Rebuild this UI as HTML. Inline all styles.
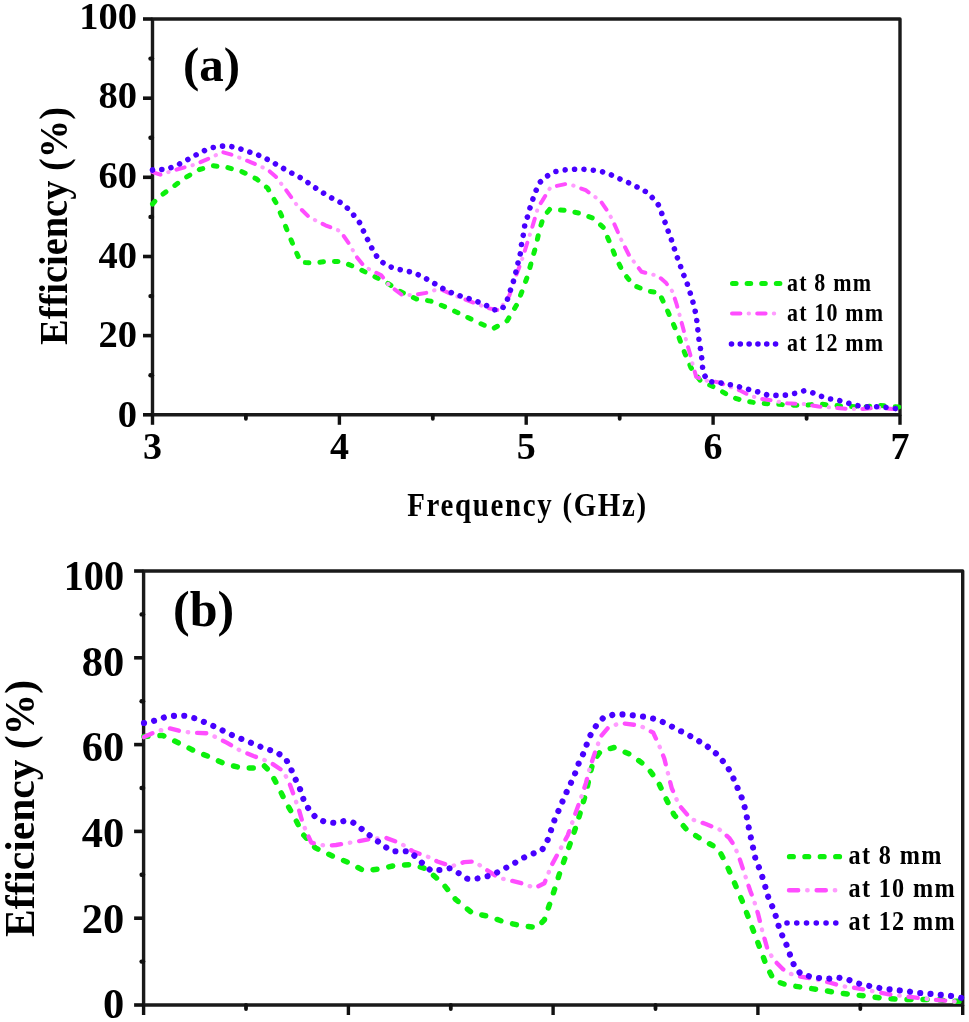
<!DOCTYPE html>
<html><head><meta charset="utf-8"><title>Efficiency vs Frequency</title><style>
html,body{margin:0;padding:0;background:#fff;}
body{width:969px;height:1022px;overflow:hidden;}
svg{display:block;filter:blur(0.45px);}
text{font-family:"Liberation Serif",serif;font-weight:bold;fill:#000;}
</style></head><body>
<svg width="969" height="1022" viewBox="0 0 969 1022">
<rect width="969" height="1022" fill="#fff"/>
<path d="M152.5,414.8 L152.5,19 L900,19 L900,414.8 Z" fill="none" stroke="#1a1a1a" stroke-width="3.4" stroke-linejoin="round"/>
<line x1="143.0" y1="414.8" x2="152.5" y2="414.8" stroke="#111" stroke-width="3.6"/>
<line x1="152.0" y1="375.2" x2="150.5" y2="375.2" stroke="#111" stroke-width="4.4" stroke-linecap="round"/>
<line x1="143.0" y1="335.6" x2="152.5" y2="335.6" stroke="#111" stroke-width="3.6"/>
<line x1="152.0" y1="296.1" x2="150.5" y2="296.1" stroke="#111" stroke-width="4.4" stroke-linecap="round"/>
<line x1="143.0" y1="256.5" x2="152.5" y2="256.5" stroke="#111" stroke-width="3.6"/>
<line x1="152.0" y1="216.9" x2="150.5" y2="216.9" stroke="#111" stroke-width="4.4" stroke-linecap="round"/>
<line x1="143.0" y1="177.3" x2="152.5" y2="177.3" stroke="#111" stroke-width="3.6"/>
<line x1="152.0" y1="137.7" x2="150.5" y2="137.7" stroke="#111" stroke-width="4.4" stroke-linecap="round"/>
<line x1="143.0" y1="98.2" x2="152.5" y2="98.2" stroke="#111" stroke-width="3.6"/>
<line x1="152.0" y1="58.6" x2="150.5" y2="58.6" stroke="#111" stroke-width="4.4" stroke-linecap="round"/>
<line x1="143.0" y1="19.0" x2="152.5" y2="19.0" stroke="#111" stroke-width="3.6"/>
<line x1="152.5" y1="414.8" x2="152.5" y2="424.8" stroke="#111" stroke-width="3.4"/>
<line x1="245.9" y1="414.8" x2="245.9" y2="418.8" stroke="#111" stroke-width="3.8" stroke-linecap="round"/>
<line x1="339.4" y1="414.8" x2="339.4" y2="424.8" stroke="#111" stroke-width="3.4"/>
<line x1="432.8" y1="414.8" x2="432.8" y2="418.8" stroke="#111" stroke-width="3.8" stroke-linecap="round"/>
<line x1="526.2" y1="414.8" x2="526.2" y2="424.8" stroke="#111" stroke-width="3.4"/>
<line x1="619.7" y1="414.8" x2="619.7" y2="418.8" stroke="#111" stroke-width="3.8" stroke-linecap="round"/>
<line x1="713.1" y1="414.8" x2="713.1" y2="424.8" stroke="#111" stroke-width="3.4"/>
<line x1="806.6" y1="414.8" x2="806.6" y2="418.8" stroke="#111" stroke-width="3.8" stroke-linecap="round"/>
<line x1="900.0" y1="414.8" x2="900.0" y2="424.8" stroke="#111" stroke-width="3.4"/>
<text x="137" y="427.0" font-size="38.5" text-anchor="end">0</text>
<text x="137" y="347.4" font-size="38.5" text-anchor="end">20</text>
<text x="137" y="267.7" font-size="38.5" text-anchor="end">40</text>
<text x="137" y="188.1" font-size="38.5" text-anchor="end">60</text>
<text x="137" y="108.4" font-size="38.5" text-anchor="end">80</text>
<text x="137" y="28.8" font-size="38.5" text-anchor="end">100</text>
<text x="152.5" y="459.4" font-size="38" text-anchor="middle">3</text>
<text x="339.4" y="459.4" font-size="38" text-anchor="middle">4</text>
<text x="526.2" y="459.4" font-size="38" text-anchor="middle">5</text>
<text x="713.1" y="459.4" font-size="38" text-anchor="middle">6</text>
<text x="900.0" y="459.4" font-size="38" text-anchor="middle">7</text>
<path d="M152.5,204.0 L158.3,197.4 L172.7,187.0 L185.1,177.8 L199.5,169.5 L213.0,165.8 L227.4,167.5 L241.8,171.6 L256.3,178.8 L267.6,188.1 L275.9,202.6 L282.1,217.0 L288.3,233.5 L294.5,248.0 L300.7,262.4 L313.0,263.0 L327.5,261.4 L342.0,261.6 L358.6,268.7 L372.0,275.3 L387.5,283.1 L400.9,291.8 L416.4,299.0 L430.8,301.1 L446.3,307.3 L461.8,314.5 L476.2,321.7 L492.7,328.9 L507.2,320.7 L516.5,305.2 L522.7,289.7 L527.8,275.3 L532.0,259.8 L536.1,245.3 L539.2,230.9 L543.4,217.1 L549.6,209.4 L564.0,210.3 L578.5,213.0 L593.0,218.1 L603.3,227.4 L609.5,241.8 L615.7,257.3 L622.9,271.8 L633.2,285.2 L648.7,291.4 L659.0,292.4 L666.0,307.4 L672.7,322.5 L678.7,336.7 L684.6,352.7 L691.1,367.9 L700.5,380.9 L716.4,388.1 L730.8,396.8 L744.5,401.1 L759.7,403.3 L774.1,404.0 L790.0,405.2 L803.7,405.3 L818.6,404.0 L833.5,405.3 L848.3,406.5 L863.2,407.0 L878.0,405.3 L892.9,406.5 L899.5,407.0" fill="none" stroke="#0cf00c" stroke-width="5.00" stroke-linecap="round" stroke-linejoin="round" stroke-dasharray="3.60 11.00"/>
<path d="M152.5,172.0 L154.0,172.6 L160.3,174.7 L176.8,169.5 L195.4,164.4 L211.9,157.2 L222.2,152.0 L232.6,155.0 L251.1,162.3 L267.6,169.5 L275.9,176.8 L286.2,190.2 L296.5,204.6 L308.9,217.0 L325.4,225.3 L340.5,231.2 L349.2,244.0 L356.5,256.7 L364.8,267.0 L381.3,275.3 L389.5,285.6 L401.9,294.9 L414.3,294.9 L426.7,292.8 L439.1,288.7 L455.6,295.9 L472.1,302.1 L488.6,308.3 L498.9,310.4 L509.2,295.9 L515.4,277.3 L521.6,260.8 L527.8,241.2 L533.0,224.7 L538.1,207.2 L542.4,200.6 L550.6,187.2 L565.1,184.1 L573.3,185.5 L585.7,190.2 L600.2,200.6 L607.4,210.9 L612.6,220.2 L620.8,238.8 L629.1,255.3 L641.5,271.8 L658.0,275.9 L666.2,283.1 L672.4,291.4 L676.5,303.8 L680.0,316.5 L683.4,329.2 L686.8,342.8 L690.3,354.9 L692.5,363.6 L696.1,376.6 L703.3,380.2 L719.2,382.4 L729.4,386.7 L739.5,390.3 L749.6,395.4 L758.3,398.3 L775.6,401.1 L787.1,403.3 L803.7,404.0 L818.6,406.5 L833.5,407.7 L848.3,409.0 L863.2,409.0 L878.0,407.7 L892.9,409.0 L899.5,409.0" fill="none" stroke="#ff4dff" stroke-width="4.00" stroke-linecap="round" stroke-linejoin="round" stroke-dasharray="8.40 16.80"/>
<path d="M152.5,172.0 L154.0,172.6 L160.3,174.7 L176.8,169.5 L195.4,164.4 L211.9,157.2 L222.2,152.0 L232.6,155.0 L251.1,162.3 L267.6,169.5 L275.9,176.8 L286.2,190.2 L296.5,204.6 L308.9,217.0 L325.4,225.3 L340.5,231.2 L349.2,244.0 L356.5,256.7 L364.8,267.0 L381.3,275.3 L389.5,285.6 L401.9,294.9 L414.3,294.9 L426.7,292.8 L439.1,288.7 L455.6,295.9 L472.1,302.1 L488.6,308.3 L498.9,310.4 L509.2,295.9 L515.4,277.3 L521.6,260.8 L527.8,241.2 L533.0,224.7 L538.1,207.2 L542.4,200.6 L550.6,187.2 L565.1,184.1 L573.3,185.5 L585.7,190.2 L600.2,200.6 L607.4,210.9 L612.6,220.2 L620.8,238.8 L629.1,255.3 L641.5,271.8 L658.0,275.9 L666.2,283.1 L672.4,291.4 L676.5,303.8 L680.0,316.5 L683.4,329.2 L686.8,342.8 L690.3,354.9 L692.5,363.6 L696.1,376.6 L703.3,380.2 L719.2,382.4 L729.4,386.7 L739.5,390.3 L749.6,395.4 L758.3,398.3 L775.6,401.1 L787.1,403.3 L803.7,404.0 L818.6,406.5 L833.5,407.7 L848.3,409.0 L863.2,409.0 L878.0,407.7 L892.9,409.0 L899.5,409.0" fill="none" stroke="#ff9cff" stroke-width="4.00" stroke-linecap="round" stroke-linejoin="round" stroke-dasharray="0.40 24.80" stroke-dashoffset="-16.60"/>
<path d="M152.5,170.0 L154.0,169.5 L165.5,169.5 L172.7,167.0 L181.0,163.3 L190.2,158.2 L199.5,153.0 L208.8,148.5 L218.1,146.4 L227.4,145.8 L237.7,147.9 L246.6,151.0 L255.9,154.0 L265.2,158.2 L274.5,163.3 L284.2,168.9 L293.4,174.0 L302.7,178.8 L312.0,185.6 L321.3,191.8 L330.6,197.4 L340.5,202.5 L349.0,209.5 L356.5,218.5 L359.6,222.6 L363.7,231.5 L367.9,240.2 L372.0,248.4 L378.2,258.8 L385.8,265.0 L395.7,268.7 L405.0,270.7 L414.3,272.8 L423.6,277.3 L432.9,282.5 L441.1,287.6 L450.4,292.2 L458.7,295.5 L466.9,298.0 L474.2,300.4 L482.4,303.7 L488.6,306.6 L493.8,309.9 L502.0,309.3 L507.2,300.0 L511.3,287.6 L514.4,278.4 L516.5,269.5 L518.5,260.8 L520.6,252.6 L521.6,243.3 L523.3,235.0 L524.7,225.7 L527.4,217.0 L529.9,208.2 L533.0,198.7 L536.1,190.4 L540.0,182.2 L546.5,176.4 L554.8,171.7 L564.0,170.0 L573.3,169.2 L582.6,169.2 L591.9,170.0 L601.2,171.3 L610.9,174.8 L619.8,178.9 L629.1,183.0 L638.4,187.6 L648.1,192.9 L655.9,201.6 L659.0,205.7 L662.1,214.4 L665.2,222.7 L668.3,231.5 L671.4,239.8 L674.5,249.1 L676.5,255.3 L679.6,263.5 L682.7,272.8 L686.4,281.1 L688.9,289.3 L692.0,298.2 L694.1,306.9 L696.2,315.1 L697.2,324.4 L698.2,332.7 L699.2,341.5 L700.8,350.6 L701.9,359.2 L702.6,367.6 L704.8,375.9 L709.1,381.6 L717.8,382.4 L725.0,383.8 L733.0,385.2 L741.6,387.4 L751.7,390.3 L760.4,392.5 L767.6,395.1 L776.3,395.4 L785.7,395.1 L795.8,393.2 L803.7,390.9 L811.2,392.1 L818.6,395.4 L828.5,398.6 L838.4,400.3 L847.1,402.8 L855.8,405.3 L865.7,407.0 L873.1,406.5 L883.0,407.0 L891.7,408.2 L899.5,409.0" fill="none" stroke="#4800ff" stroke-width="5.60" stroke-linecap="round" stroke-linejoin="round" stroke-dasharray="0.01 9.40"/>
<path d="M732.5,283.5 L782.0,283.5" fill="none" stroke="#0cf00c" stroke-width="5.00" stroke-linecap="round" stroke-linejoin="round" stroke-dasharray="3.60 11.00"/>
<path d="M732.0,313.5 L780.0,313.5" fill="none" stroke="#ff4dff" stroke-width="4.00" stroke-linecap="round" stroke-linejoin="round" stroke-dasharray="8.40 16.80"/>
<path d="M732.0,313.5 L780.0,313.5" fill="none" stroke="#ff9cff" stroke-width="4.00" stroke-linecap="round" stroke-linejoin="round" stroke-dasharray="0.40 24.80" stroke-dashoffset="-16.60"/>
<path d="M731.5,344.0 L776.2,344.0" fill="none" stroke="#4800ff" stroke-width="5.60" stroke-linecap="round" stroke-linejoin="round" stroke-dasharray="0.01 8.80"/>
<text transform="translate(787,290.5) scale(0.88,1)" x="0" y="0" font-size="25" textLength="95.5" lengthAdjust="spacing">at 8 mm</text>
<text transform="translate(787,320.5) scale(0.88,1)" x="0" y="0" font-size="25" textLength="109.1" lengthAdjust="spacing">at 10 mm</text>
<text transform="translate(787,351.0) scale(0.88,1)" x="0" y="0" font-size="25" textLength="109.1" lengthAdjust="spacing">at 12 mm</text>
<text x="183" y="80.5" font-size="49">(a)</text>
<text transform="translate(407.3,515.6) scale(0.85,1)" x="0" y="0" font-size="34" textLength="281" lengthAdjust="spacing">Frequency (GHz)</text>
<text transform="translate(66.5,345) rotate(-90)" x="0" y="0" font-size="41" textLength="238" lengthAdjust="spacingAndGlyphs">Efficiency (%)</text>
<path d="M143.6,1005 L143.6,571 L962.7,571 L962.7,1005 Z" fill="none" stroke="#1a1a1a" stroke-width="3.4" stroke-linejoin="round"/>
<line x1="134.1" y1="1005.0" x2="143.6" y2="1005.0" stroke="#111" stroke-width="3.6"/>
<line x1="143.1" y1="961.6" x2="141.6" y2="961.6" stroke="#111" stroke-width="4.4" stroke-linecap="round"/>
<line x1="134.1" y1="918.2" x2="143.6" y2="918.2" stroke="#111" stroke-width="3.6"/>
<line x1="143.1" y1="874.8" x2="141.6" y2="874.8" stroke="#111" stroke-width="4.4" stroke-linecap="round"/>
<line x1="134.1" y1="831.4" x2="143.6" y2="831.4" stroke="#111" stroke-width="3.6"/>
<line x1="143.1" y1="788.0" x2="141.6" y2="788.0" stroke="#111" stroke-width="4.4" stroke-linecap="round"/>
<line x1="134.1" y1="744.6" x2="143.6" y2="744.6" stroke="#111" stroke-width="3.6"/>
<line x1="143.1" y1="701.2" x2="141.6" y2="701.2" stroke="#111" stroke-width="4.4" stroke-linecap="round"/>
<line x1="134.1" y1="657.8" x2="143.6" y2="657.8" stroke="#111" stroke-width="3.6"/>
<line x1="143.1" y1="614.4" x2="141.6" y2="614.4" stroke="#111" stroke-width="4.4" stroke-linecap="round"/>
<line x1="134.1" y1="571.0" x2="143.6" y2="571.0" stroke="#111" stroke-width="3.6"/>
<line x1="143.6" y1="1005" x2="143.6" y2="1015" stroke="#111" stroke-width="3.4"/>
<line x1="246.0" y1="1005" x2="246.0" y2="1009" stroke="#111" stroke-width="3.8" stroke-linecap="round"/>
<line x1="348.4" y1="1005" x2="348.4" y2="1015" stroke="#111" stroke-width="3.4"/>
<line x1="450.8" y1="1005" x2="450.8" y2="1009" stroke="#111" stroke-width="3.8" stroke-linecap="round"/>
<line x1="553.1" y1="1005" x2="553.1" y2="1015" stroke="#111" stroke-width="3.4"/>
<line x1="655.5" y1="1005" x2="655.5" y2="1009" stroke="#111" stroke-width="3.8" stroke-linecap="round"/>
<line x1="757.9" y1="1005" x2="757.9" y2="1015" stroke="#111" stroke-width="3.4"/>
<line x1="860.3" y1="1005" x2="860.3" y2="1009" stroke="#111" stroke-width="3.8" stroke-linecap="round"/>
<line x1="962.7" y1="1005" x2="962.7" y2="1015" stroke="#111" stroke-width="3.4"/>
<text x="124.2" y="1018.4" font-size="42.5" text-anchor="end">0</text>
<text x="124.2" y="932.7" font-size="42.5" text-anchor="end">20</text>
<text x="124.2" y="847.0" font-size="42.5" text-anchor="end">40</text>
<text x="124.2" y="761.3" font-size="42.5" text-anchor="end">60</text>
<text x="124.2" y="675.6" font-size="42.5" text-anchor="end">80</text>
<text x="124.2" y="589.9" font-size="42.5" text-anchor="end" textLength="60.5" lengthAdjust="spacingAndGlyphs">100</text>
<path d="M144.0,736.4 L162.7,735.4 L180.2,743.7 L195.7,751.5 L210.2,757.1 L225.7,764.3 L242.2,768.0 L257.6,768.0 L263.8,765.3 L270.0,771.5 L277.3,784.9 L285.5,801.5 L294.8,818.0 L303.1,834.5 L315.4,847.9 L333.0,856.3 L348.6,862.6 L364.1,870.8 L380.6,868.8 L396.0,865.2 L412.6,864.6 L426.0,868.8 L442.5,883.2 L455.9,899.7 L472.4,913.1 L487.9,916.2 L504.4,922.0 L521.0,925.7 L537.1,927.6 L544.4,919.8 L549.3,905.2 L554.2,890.5 L559.6,873.4 L565.2,857.5 L571.3,840.4 L576.7,824.5 L581.1,809.8 L586.0,792.7 L589.7,775.6 L593.3,760.9 L600.7,751.1 L614.1,747.5 L631.2,754.8 L647.1,767.0 L658.1,781.7 L665.5,797.6 L674.0,814.7 L687.5,830.6 L703.0,840.2 L718.2,848.6 L726.4,864.2 L734.4,882.7 L742.3,901.2 L750.2,922.4 L758.2,943.5 L766.1,964.7 L774.0,980.6 L787.5,985.2 L804.8,987.6 L822.2,990.2 L839.5,993.0 L856.7,995.1 L872.0,996.8 L885.0,998.4 L901.4,999.4 L917.9,999.4 L934.3,999.4 L950.7,1000.9 L962.0,1001.5" fill="none" stroke="#0cf00c" stroke-width="5.48" stroke-linecap="round" stroke-linejoin="round" stroke-dasharray="3.95 12.06"/>
<path d="M144.0,737.1 L156.5,731.3 L168.9,728.2 L181.3,731.3 L191.6,732.7 L208.1,733.3 L226.7,742.6 L239.1,749.9 L253.5,756.0 L270.0,762.2 L282.4,770.5 L288.6,780.8 L293.8,795.3 L298.9,809.7 L303.1,824.2 L311.3,842.7 L325.8,845.8 L336.0,845.0 L356.8,841.5 L371.3,838.8 L385.7,837.8 L400.2,843.0 L412.6,851.2 L427.0,856.4 L437.3,861.5 L451.8,866.3 L464.2,862.1 L474.5,861.5 L484.8,868.8 L499.2,878.0 L511.6,880.7 L523.5,883.8 L534.7,888.0 L544.4,883.2 L551.8,864.8 L559.1,851.4 L567.7,835.5 L575.0,814.7 L581.1,797.6 L586.0,782.9 L589.7,768.2 L594.6,753.6 L600.7,736.5 L608.0,727.9 L620.2,723.0 L639.8,725.5 L653.3,732.8 L659.4,746.2 L664.3,758.5 L667.9,773.1 L671.6,787.8 L678.9,804.9 L691.1,819.1 L705.8,824.0 L719.3,829.4 L729.1,837.8 L734.4,845.7 L739.7,859.0 L744.9,874.8 L750.2,890.7 L754.2,901.2 L758.2,914.5 L762.1,930.3 L767.4,948.8 L773.5,959.6 L783.0,969.3 L790.5,973.8 L800.4,976.6 L811.1,978.3 L827.5,982.0 L841.9,986.1 L856.3,988.1 L872.7,991.2 L889.1,994.3 L905.5,996.4 L922.0,998.4 L938.4,1000.1 L954.8,1001.5 L962.0,1002.1" fill="none" stroke="#ff4dff" stroke-width="4.38" stroke-linecap="round" stroke-linejoin="round" stroke-dasharray="9.21 18.41"/>
<path d="M144.0,737.1 L156.5,731.3 L168.9,728.2 L181.3,731.3 L191.6,732.7 L208.1,733.3 L226.7,742.6 L239.1,749.9 L253.5,756.0 L270.0,762.2 L282.4,770.5 L288.6,780.8 L293.8,795.3 L298.9,809.7 L303.1,824.2 L311.3,842.7 L325.8,845.8 L336.0,845.0 L356.8,841.5 L371.3,838.8 L385.7,837.8 L400.2,843.0 L412.6,851.2 L427.0,856.4 L437.3,861.5 L451.8,866.3 L464.2,862.1 L474.5,861.5 L484.8,868.8 L499.2,878.0 L511.6,880.7 L523.5,883.8 L534.7,888.0 L544.4,883.2 L551.8,864.8 L559.1,851.4 L567.7,835.5 L575.0,814.7 L581.1,797.6 L586.0,782.9 L589.7,768.2 L594.6,753.6 L600.7,736.5 L608.0,727.9 L620.2,723.0 L639.8,725.5 L653.3,732.8 L659.4,746.2 L664.3,758.5 L667.9,773.1 L671.6,787.8 L678.9,804.9 L691.1,819.1 L705.8,824.0 L719.3,829.4 L729.1,837.8 L734.4,845.7 L739.7,859.0 L744.9,874.8 L750.2,890.7 L754.2,901.2 L758.2,914.5 L762.1,930.3 L767.4,948.8 L773.5,959.6 L783.0,969.3 L790.5,973.8 L800.4,976.6 L811.1,978.3 L827.5,982.0 L841.9,986.1 L856.3,988.1 L872.7,991.2 L889.1,994.3 L905.5,996.4 L922.0,998.4 L938.4,1000.1 L954.8,1001.5 L962.0,1002.1" fill="none" stroke="#ff9cff" stroke-width="4.38" stroke-linecap="round" stroke-linejoin="round" stroke-dasharray="0.44 27.18" stroke-dashoffset="-18.19"/>
<path d="M144.0,723.0 L147.2,722.6 L157.5,719.9 L165.8,716.8 L175.1,715.8 L185.4,715.8 L195.7,718.5 L205.6,722.6 L216.0,727.2 L226.3,732.3 L236.0,737.1 L246.3,740.6 L256.6,745.3 L266.9,749.2 L277.3,752.3 L286.5,760.2 L292.7,772.6 L296.9,782.5 L301.0,791.1 L304.1,801.5 L309.2,809.7 L316.5,818.4 L325.8,822.1 L336.1,823.0 L344.4,820.9 L352.7,822.3 L359.9,827.5 L366.1,832.6 L372.3,837.4 L378.5,841.9 L384.7,846.5 L391.5,851.2 L400.6,851.2 L409.5,851.2 L416.3,857.4 L422.9,863.6 L431.1,870.8 L441.5,869.8 L449.7,868.3 L459.0,873.3 L467.3,878.7 L473.4,879.1 L483.8,877.4 L493.1,874.5 L502.3,869.8 L512.7,864.2 L522.7,858.1 L531.0,854.3 L542.0,850.1 L548.1,839.1 L551.3,829.4 L555.5,817.1 L560.3,806.9 L564.5,796.4 L568.9,787.3 L574.3,775.6 L578.7,763.3 L583.1,754.1 L586.5,745.0 L590.4,735.2 L595.8,726.2 L603.1,718.1 L614.1,714.4 L625.1,714.4 L636.1,715.7 L645.9,716.9 L656.4,719.3 L666.7,723.7 L676.5,729.1 L687.5,734.5 L697.3,740.1 L707.0,746.2 L716.8,754.1 L726.4,765.1 L731.7,774.4 L735.7,783.6 L739.7,792.9 L743.6,802.1 L745.5,811.4 L747.6,820.6 L749.4,831.2 L751.5,840.5 L755.5,859.0 L760.3,870.8 L763.4,880.1 L768.7,898.6 L773.5,909.1 L776.5,918.3 L779.2,928.2 L783.3,938.0 L787.5,947.1 L790.5,956.3 L794.2,965.8 L800.6,973.8 L809.0,976.2 L818.3,977.9 L827.5,978.9 L837.8,977.5 L848.0,979.6 L856.3,983.0 L865.5,985.1 L874.7,987.1 L883.0,988.6 L897.3,990.2 L907.6,991.2 L915.8,992.7 L925.1,993.3 L934.3,994.3 L945.6,995.3 L954.8,996.4 L962.0,998.0" fill="none" stroke="#4800ff" stroke-width="6.14" stroke-linecap="round" stroke-linejoin="round" stroke-dasharray="0.01 10.30"/>
<path d="M789.5,856.7 L842.0,856.7" fill="none" stroke="#0cf00c" stroke-width="5.27" stroke-linecap="round" stroke-linejoin="round" stroke-dasharray="3.80 11.60"/>
<path d="M789.0,890.2 L838.0,890.2" fill="none" stroke="#ff4dff" stroke-width="4.38" stroke-linecap="round" stroke-linejoin="round" stroke-dasharray="9.21 18.41"/>
<path d="M789.0,890.2 L838.0,890.2" fill="none" stroke="#ff9cff" stroke-width="4.38" stroke-linecap="round" stroke-linejoin="round" stroke-dasharray="0.44 27.18" stroke-dashoffset="-18.19"/>
<path d="M787.0,923.0 L836.0,923.0" fill="none" stroke="#4800ff" stroke-width="5.60" stroke-linecap="round" stroke-linejoin="round" stroke-dasharray="0.01 9.75"/>
<text transform="translate(848.5,863.7) scale(0.88,1)" x="0" y="0" font-size="27.5" textLength="105.7" lengthAdjust="spacing">at 8 mm</text>
<text transform="translate(848.5,897.2) scale(0.88,1)" x="0" y="0" font-size="27.5" textLength="120.5" lengthAdjust="spacing">at 10 mm</text>
<text transform="translate(848.5,930.0) scale(0.88,1)" x="0" y="0" font-size="27.5" textLength="120.5" lengthAdjust="spacing">at 12 mm</text>
<text x="173" y="626.2" font-size="50">(b)</text>
<text transform="translate(33.5,937) rotate(-90)" x="0" y="0" font-size="43" textLength="257" lengthAdjust="spacingAndGlyphs">Efficiency (%)</text>
</svg>
</body></html>
